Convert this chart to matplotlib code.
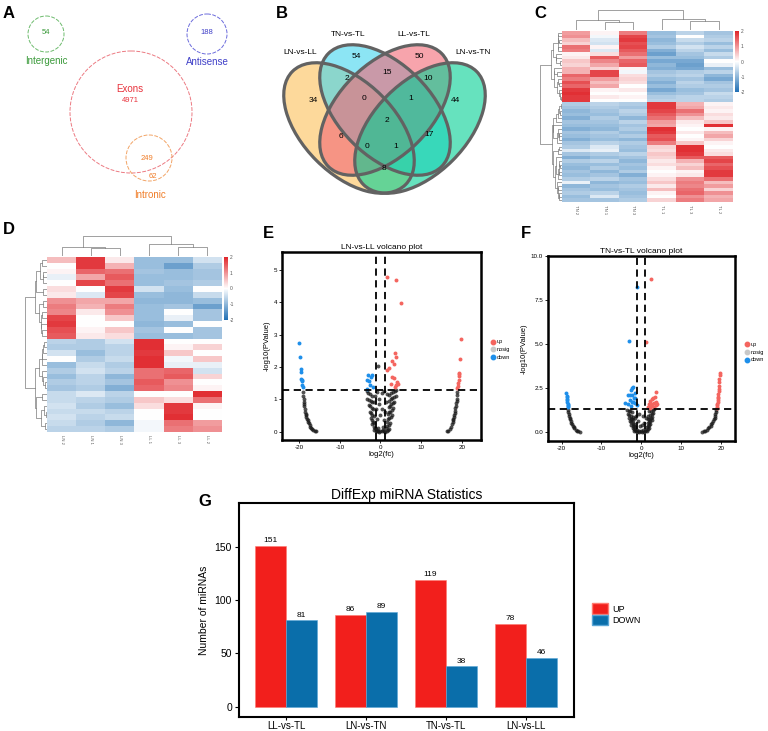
import numpy as np
import matplotlib
matplotlib.use("Agg")
import matplotlib.pyplot as plt
from matplotlib.patches import Circle, Ellipse, Patch
from matplotlib.lines import Line2D
from matplotlib.colors import LinearSegmentedColormap

plt.rcParams['font.family'] = ['Liberation Sans', 'DejaVu Sans']
plt.rcParams['axes.unicode_minus'] = False

# ---------------- data ----------------
# A: genomic origin counts
a_labels = ['Intergenic', 'Antisense', 'Exons', 'Intronic']
a_counts = [54, 188, 4971, 249]
a_intronic_only = 62

# B: four-set venn
venn_sets = ['LN-vs-LL', 'TN-vs-TL', 'LL-vs-TL', 'LN-vs-TN']
venn_counts = [34, 54, 50, 44, 2, 15, 10, 0, 1, 6, 2, 17, 0, 1, 8]

# C / D heatmaps (z-scores, rows top to bottom)
c_cols = ['TN 2', 'TN 1', 'TN 3', 'TL 1', 'TL 3', 'TL 2']
c_vals = [
    [0.9, 0.1, 1.2, -0.9, -0.6, -0.8], [1.0, -0.1, 1.7, -0.8, 0.0, -0.7],
    [0.6, -0.3, 1.8, -1.0, -0.5, -0.6], [0.4, -0.4, 1.6, -0.9, -0.7, -0.9],
    [1.3, 0.1, 1.7, -0.7, -0.4, -0.6], [1.2, -0.3, 1.5, -1.1, -0.6, -0.9],
    [0.1, 0.3, 1.3, -1.3, -0.8, -0.5], [0.2, 1.5, 0.9, -0.9, -0.9, -0.7],
    [0.5, 1.1, 1.4, -1.2, -1.2, 0.0], [0.4, 0.8, 1.5, -1.0, -1.3, -0.2],
    [0.7, 0.4, 0.1, -1.1, -1.2, -0.9], [0.7, 1.7, -0.1, -0.8, -0.7, -0.6],
    [1.4, 1.7, 0.3, -0.7, -0.6, -1.0], [1.2, 0.9, 0.4, -0.9, -0.8, -1.2],
    [1.6, 0.6, 0.3, -1.1, -0.6, -0.8], [1.4, 0.8, 0.0, -0.9, -0.7, -0.7],
    [1.8, 0.1, 0.2, -1.2, -0.9, -0.8], [1.9, 0.0, 0.0, -0.9, -0.8, -0.5],
    [1.8, 0.2, 0.1, -0.7, -0.6, -0.6], [1.8, 0.0, 0.0, -0.6, -0.6, -0.7],
    [-0.7, -0.6, -0.7, 1.8, 0.7, 0.1], [-0.8, -0.7, -0.8, 1.8, 0.8, 0.2],
    [-1.0, -0.8, -0.6, 1.7, 1.3, 0.1], [-0.9, -0.9, -0.7, 1.5, 1.0, 0.3],
    [-1.1, -0.7, -1.0, 1.3, 0.6, 0.2], [-0.8, -0.8, -0.6, 0.9, 0.2, 0.5],
    [-0.9, -0.9, -0.8, 0.8, 0.1, 1.9], [-1.1, -1.0, -0.7, 1.9, 0.0, 0.1],
    [-0.8, -0.7, -0.9, 1.8, 0.2, 0.6], [-0.9, -0.8, -0.7, 1.5, 0.0, 0.8],
    [-1.1, -0.9, -1.0, 1.6, 0.1, 0.4], [-0.8, -0.6, -0.7, 1.2, 0.5, 0.1],
    [-0.7, -0.3, -0.8, 0.4, 1.9, 0.0], [-0.3, -0.2, -0.9, 0.3, 1.9, 0.2],
    [-0.8, -0.7, -0.6, 0.5, 1.8, 0.3], [-1.1, -0.9, -0.8, 0.4, 1.5, 1.5],
    [-0.7, -0.6, -1.0, 0.2, 0.7, 1.7], [-0.9, -0.9, -0.8, 0.3, 0.4, 1.4],
    [-1.0, -0.7, -0.9, 0.1, 0.6, 1.6], [-0.8, -1.0, -0.7, 0.0, 0.1, 1.8],
    [-0.9, -0.8, -1.1, 0.1, 0.2, 1.8], [-0.7, -0.6, -0.8, 0.3, 1.0, 1.3],
    [-0.2, -1.0, -0.9, 0.5, 1.2, 0.6], [-1.0, -0.8, -0.7, 0.2, 1.1, 0.9],
    [-0.8, -0.9, -0.8, 0.6, 1.3, 0.4], [-0.7, -0.6, -0.9, 0.1, 1.4, 1.0],
    [-0.9, -0.3, -0.8, 0.0, 1.0, 0.7], [-0.8, -0.8, -0.7, 0.4, 1.2, 0.8],
]
c_col_tree = [(1, 2, 0.40), (0, 6, 0.48), (4, 5, 0.44), (3, 8, 0.52), (7, 9, 1.0)]

d_cols = ['LN 2', 'LN 1', 'LN 3', 'LL 1', 'LL 3', 'LL 2']
d_vals = [
    [0.6, 1.8, 0.2, -0.9, -0.9, -0.4], [0.0, 1.8, 0.7, -0.9, -1.3, -0.7],
    [0.1, 1.4, 1.3, -0.8, -0.9, -0.8], [-0.2, 0.8, 1.5, -0.9, -0.9, -0.8],
    [0.0, 1.7, 1.3, -0.9, -0.8, -0.7], [0.3, 0.0, 1.8, -0.4, -0.9, 0.0],
    [0.2, -0.3, 1.7, -0.9, -1.0, -0.5], [1.0, 0.8, 0.8, -1.0, -1.0, -0.9],
    [1.2, 0.7, 1.2, -0.9, -0.8, -1.3], [1.1, 0.2, 1.0, -0.9, 0.0, -0.8],
    [1.7, 0.0, 0.5, -0.9, -0.2, -0.8], [1.8, 0.0, 0.0, -1.0, -0.9, 0.0],
    [1.6, 0.1, 0.5, -0.8, 0.0, -0.8], [1.5, 0.2, 0.3, -0.9, -0.9, -0.8],
    [-0.6, -0.7, -0.4, 1.9, 0.0, 0.0], [-0.7, -0.7, -0.6, 1.9, 0.1, 0.4],
    [-0.4, -0.9, -0.6, 1.8, 0.5, 0.0], [0.0, -0.7, -0.5, 1.9, -0.1, 0.5],
    [-0.9, -0.5, -0.7, 1.9, -0.2, -0.2], [-0.7, -0.4, -0.6, 1.3, 1.4, -0.4],
    [-0.9, -0.6, -1.0, 1.3, 1.5, 0.4], [-0.7, -0.6, -0.8, 1.5, 1.0, 0.0],
    [-0.8, -0.7, -1.1, 1.4, 1.1, 0.1], [-0.5, -0.3, -0.6, 0.0, 0.0, 1.9],
    [-0.5, -0.6, -0.7, 0.5, 0.3, 1.3], [-0.4, -0.7, -0.9, 0.3, 1.8, 0.1],
    [-0.5, -0.5, -0.6, 0.0, 1.8, 0.0], [-0.4, -0.6, -0.5, 0.0, 1.9, 0.0],
    [-0.5, -0.7, -1.0, -0.1, 1.3, 0.9], [-0.6, -0.6, -0.7, -0.1, 1.2, 1.0],
]
d_col_tree = [(1, 2, 0.39), (0, 6, 0.46), (4, 5, 0.46), (3, 8, 0.57), (7, 9, 1.0)]

# E: LN-vs-LL volcano
e_up_x = [19.9, 19.5, 19.4, 19.35, 19.3, 19.2, 19.1, 19.0, 18.9,
          1.5, 3.8, 5.0, 3.5, 3.9, 2.9, 3.3, 2.0, 1.7, 2.9, 3.2, 4.1, 3.9, 2.7, 4.4, 3.5]
e_up_y = [2.85, 2.25, 1.82, 1.78, 1.72, 1.58, 1.5, 1.42, 1.35,
          4.77, 4.70, 3.98, 2.42, 2.29, 2.19, 2.1, 1.96, 1.91, 1.70, 1.67, 1.53, 1.43, 1.47, 1.47, 1.39]
e_dn_x = [-19.9, -19.7, -19.6, -19.55, -19.5, -19.4, -19.3, -19.2, -19.1,
          -3.0, -2.4, -2.1, -3.4, -2.8, -3.2, -1.9, -2.6]
e_dn_y = [2.75, 2.3, 1.92, 1.85, 1.62, 1.6, 1.55, 1.45, 1.38,
          1.75, 1.70, 1.75, 1.60, 1.55, 1.33, 1.38, 1.45]
e_ns_x = [-19.0, -18.95, -18.9, -18.85, -18.8, -18.7, -18.6, -18.5, -18.4, -18.3, -18.2,
          -18.0, -17.9, -17.7, -17.5, -17.4, -17.2, -17.0, -16.8, -16.5, -16.2, -15.9,
          18.9, 18.8, 18.75, 18.7, 18.6, 18.5, 18.4, 18.3, 18.2, 18.1, 18.0, 17.9, 17.8,
          17.7, 17.5, 17.3, 17.0, 16.6, 16.3,
          -1.6, -1.2, -0.9, -0.6, -0.3, 0.0, 0.3, 0.6, 0.9, 1.2, 1.5, 1.8, 2.1,
          -2.0, -1.7, -1.4, -1.1, -0.5, 0.5, 1.4, 1.7, 2.0, 2.3,
          -2.3, -2.0, -1.8, -1.5, 1.6, 1.9, 2.2, 2.5, 2.8,
          -2.6, -2.3, -2.0, -1.7, 1.8, 2.1, 2.4, 2.8, 3.1,
          -2.9, -2.5, -2.2, -1.9, 2.0, 2.3, 2.7, 3.0, 3.4,
          -3.2, -2.8, -2.4, -2.0, -1.6, 2.1, 2.5, 2.9, 3.3, 3.7,
          -3.4, -3.0, -2.6, -2.1, -0.4, 0.3, 2.2, 2.6, 3.0, 3.5, 3.9,
          -0.7, -0.3, 0.4, -0.2, 0.8, -0.8, 1.0, -1.2, 1.3, -1.3, 1.6, 0.9, -0.9]
e_ns_y = [1.22, 1.1, 1.0, 0.92, 0.85, 0.78, 0.7, 0.62, 0.55, 0.5, 0.45,
          0.4, 0.35, 0.3, 0.25, 0.2, 0.15, 0.12, 0.08, 0.05, 0.02, 0.01,
          1.22, 1.12, 1.02, 0.95, 0.88, 0.8, 0.72, 0.65, 0.58, 0.5, 0.45, 0.4, 0.35,
          0.3, 0.22, 0.15, 0.08, 0.03, 0.01,
          0.05, 0.02, 0.01, 0.03, 0.0, 0.02, 0.01, 0.04, 0.02, 0.0, 0.03, 0.06, 0.08,
          0.22, 0.15, 0.1, 0.08, 0.12, 0.15, 0.12, 0.18, 0.2, 0.25,
          0.42, 0.36, 0.3, 0.28, 0.3, 0.38, 0.42, 0.45, 0.5,
          0.62, 0.58, 0.52, 0.48, 0.55, 0.6, 0.62, 0.68, 0.72,
          0.82, 0.78, 0.72, 0.7, 0.75, 0.8, 0.85, 0.88, 0.92,
          1.02, 0.98, 0.95, 0.92, 0.9, 0.95, 1.0, 1.05, 1.08, 1.1,
          1.25, 1.2, 1.15, 1.1, 1.0, 1.2, 1.12, 1.18, 1.22, 1.26, 1.28,
          2.04, 0.85, 0.7, 0.5, 0.35, 0.4, 0.6, 0.7, 0.9, 1.1, 1.15, 1.25, 1.22]

# F: TN-vs-TL volcano
f_up_x = [19.8, 19.7, 19.6, 19.55, 19.5, 19.45, 19.4, 19.35, 19.3, 19.25, 19.2, 19.15,
          19.1, 19.0, 18.95, 18.9,
          2.4, 1.3, 3.7, 3.4, 3.0, 2.6, 2.2, 3.8, 3.3, 2.8, 2.0, 3.6, 2.5, 1.9, 3.1, 1.6,
          2.3, 4.0]
f_up_y = [3.35, 3.2, 3.0, 2.8, 2.6, 2.45, 2.3, 2.15, 2.0, 1.9, 1.8, 1.7,
          1.6, 1.5, 1.42, 1.35,
          8.7, 5.1, 2.28, 2.0, 1.9, 1.85, 1.75, 1.7, 1.65, 1.6, 1.55, 1.5, 1.45, 1.42, 1.4, 1.38,
          1.35, 1.55]
f_dn_x = [-18.8, -18.75, -18.7, -18.65, -18.6, -18.55, -18.5, -18.5, -18.45, -18.4,
          -1.1, -3.0, -2.0, -2.6, -3.3, -2.3, -1.6, -4.1, -2.9, -2.0, -1.5,
          -2.4, -2.8, -1.8, -2.4, -3.3, -1.6, -2.6, -1.2]
f_dn_y = [2.2, 2.05, 1.95, 1.85, 1.78, 1.7, 1.6, 1.52, 1.45, 1.38,
          8.23, 5.19, 2.53, 2.38, 2.1, 2.1, 2.2, 1.62, 1.8, 1.7, 1.9,
          2.5, 2.1, 1.9, 1.7, 1.6, 1.65, 1.45, 1.5]
f_ns_x = [-18.4, -18.3, -18.2, -18.1, -18.0, -17.9, -17.7, -17.6, -17.4, -17.2, -17.0,
          -16.8, -16.5, -16.2, -15.8, -15.4,
          18.8, 18.7, 18.6, 18.5, 18.4, 18.2, 18.0, 17.8, 17.6, 17.4, 17.1, 16.8, 16.5,
          16.1, 15.7, 15.3,
          -1.8, -1.4, -1.0, -0.6, -0.2, 0.2, 0.6, 1.0, 1.4,
          -2.2, -1.9, -1.6, -1.2, -0.5, 0.4, 1.2, 1.6, 1.9,
          -2.5, -2.2, -1.9, -1.6, 1.4, 1.7, 2.0, 2.3,
          -2.8, -2.5, -2.2, -1.8, 1.6, 1.9, 2.2, 2.6,
          -3.1, -2.7, -2.3, -2.0, 1.7, 2.0, 2.4, 2.8,
          -3.4, -3.0, -2.6, -2.2, -1.7, 1.8, 2.2, 2.6, 3.0,
          -3.7, -3.2, -2.8, -2.3, -0.6, 0.5, 1.9, 2.4, 2.9, 3.3,
          -0.9, 0.8, -1.3, 1.1, -0.3, 0.3]
f_ns_y = [1.25, 1.12, 1.0, 0.9, 0.8, 0.7, 0.6, 0.5, 0.42, 0.33, 0.27,
          0.2, 0.12, 0.06, 0.02, 0.0,
          1.22, 1.1, 1.0, 0.9, 0.8, 0.7, 0.6, 0.5, 0.42, 0.35, 0.27, 0.2, 0.12,
          0.06, 0.02, 0.0,
          0.05, 0.02, 0.01, 0.0, 0.03, 0.01, 0.0, 0.02, 0.05,
          0.2, 0.15, 0.1, 0.08, 0.06, 0.07, 0.1, 0.15, 0.2,
          0.4, 0.35, 0.3, 0.25, 0.28, 0.33, 0.38, 0.42,
          0.6, 0.55, 0.5, 0.45, 0.48, 0.55, 0.6, 0.65,
          0.8, 0.75, 0.7, 0.65, 0.7, 0.75, 0.8, 0.85,
          1.0, 0.95, 0.9, 0.85, 0.8, 0.9, 0.95, 1.0, 1.05,
          1.25, 1.2, 1.15, 1.1, 1.0, 0.9, 1.15, 1.2, 1.25, 1.28,
          0.6, 0.5, 0.9, 0.8, 0.3, 0.4]

# G: DiffExp counts
g_groups = ['LL-vs-TL', 'LN-vs-TN', 'TN-vs-TL', 'LN-vs-LL']
g_up = [151, 86, 119, 78]
g_down = [81, 89, 38, 46]

# ---------------- figure ----------------
W, H = 768, 731
fig = plt.figure(figsize=(W / 100, H / 100), dpi=100)


def px_ax(l, t, r, b):
    return fig.add_axes([l / W, 1 - b / H, (r - l) / W, (b - t) / H])


# overlay in pixel units for panels A, B and the letters
ov = fig.add_axes([0, 0, 1, 1])
ov.set_xlim(0, W)
ov.set_ylim(H, 0)
ov.axis('off')

for letter, (x, y) in zip('ABCDEFG', [(9, 13), (282, 13), (540, 13), (9, 230),
                                      (268, 233), (526, 233), (205, 501)]):
    ov.text(x, y, letter, fontsize=12, fontweight='bold', ha='center', va='center')

# ---- A ----
a_geom = [((46, 34), 18, '#6dbb6d', '#3a9a3a'), ((207, 34), 20, '#6b6bdc', '#4040c8'),
          ((131, 112), 61, '#ec7a82', '#e8323c'), ((149, 158), 23, '#f2a466', '#f07d28')]
for (c, r, lc, tc) in a_geom:
    ov.add_patch(Circle(c, r, fill=False, ec=lc, lw=0.7, ls=(0, (4, 1.5))))
ov.text(46, 33, str(a_counts[0]), color='#3a9a3a', fontsize=5.5, ha='center', va='center')
ov.text(46, 61, a_labels[0], color='#3a9a3a', fontsize=7, ha='center', va='center')
ov.text(207, 33, str(a_counts[1]), color='#4040c8', fontsize=5.5, ha='center', va='center')
ov.text(207, 62, a_labels[1], color='#4040c8', fontsize=7, ha='center', va='center')
ov.text(130, 89, a_labels[2], color='#e8323c', fontsize=7, ha='center', va='center')
ov.text(130, 101, str(a_counts[2]), color='#e8323c', fontsize=5.5, ha='center', va='center')
ov.text(147, 159, str(a_counts[3]), color='#f07d28', fontsize=5.5, ha='center', va='center')
ov.text(153, 177, str(a_intronic_only), color='#f07d28', fontsize=5.5, ha='center', va='center')
ov.text(150, 195, a_labels[3], color='#f07d28', fontsize=7, ha='center', va='center')

# ---- B ----
ell = [((349, 128), 45, '#fcc058'), ((385, 110), 45, '#3fd5ee'),
       ((385, 110), -45, '#f26776'), ((420, 128), -45, '#00d094')]
for (c, ang, col) in ell:
    ov.add_patch(Ellipse(c, 160, 92, angle=ang, fc=col, ec='none', alpha=0.6))
for (c, ang, col) in ell:
    ov.add_patch(Ellipse(c, 160, 92, angle=ang, fill=False, ec='#626262', lw=2.3))
region_xy = [(313, 100), (356, 56), (419, 56), (455, 100), (347, 79), (387, 73),
             (428, 79), (364, 98), (411, 98), (341, 136), (387, 121), (429, 135),
             (367, 147), (396, 147), (384, 168)]
for (x, y), v in zip(region_xy, venn_counts):
    ov.text(x, y, str(v), fontsize=6, ha='center', va='center')
for (x, y), s in zip([(300, 52), (348, 34), (414, 34), (473, 52)], venn_sets):
    ov.text(x, y, s, fontsize=6, ha='center', va='center')

# ---- heatmaps with dendrograms ----
hm_cmap = LinearSegmentedColormap.from_list('bwr_hm', ['#1f6fb4', '#ffffff', '#e0252a'])


def row_tree(mat):
    groups = [[i] for i in range(len(mat))]
    ids = list(range(len(mat)))
    hts = {i: 0.0 for i in ids}
    merges, nid = [], len(mat)
    while len(groups) > 1:
        best = None
        for k in range(len(groups) - 1):
            a, b = mat[groups[k]], mat[groups[k + 1]]
            d = np.sqrt(((a[:, None, :] - b[None, :, :]) ** 2).sum(-1)).mean()
            if best is None or d < best[0]:
                best = (d, k)
        d, k = best
        h = max(d, hts[ids[k]], hts[ids[k + 1]])
        merges.append((ids[k], ids[k + 1], h))
        hts[nid] = h
        groups[k:k + 2] = [groups[k] + groups[k + 1]]
        ids[k:k + 2] = [nid]
        nid += 1
    return merges


def draw_tree(ax, merges, n, vertical):
    pos = {i: float(i) for i in range(n)}
    hgt = {i: 0.0 for i in range(n)}
    for k, (a, b, h) in enumerate(merges):
        p = [pos[a], pos[a], pos[b], pos[b]]
        q = [hgt[a], h, h, hgt[b]]
        if vertical:
            ax.plot(p, q, color='#7a7a7a', lw=0.5)
        else:
            ax.plot(q, p, color='#7a7a7a', lw=0.5)
        pos[n + k] = (pos[a] + pos[b]) / 2
        hgt[n + k] = h
    top = merges[-1][2] * 1.03
    if vertical:
        ax.set_xlim(-0.5, n - 0.5)
        ax.set_ylim(0, top)
    else:
        ax.set_xlim(top, 0)
        ax.set_ylim(n - 0.5, -0.5)
    ax.axis('off')


def heat_panel(vals, cols, col_tree, hm_box, cb_box):
    l, t, r, b = hm_box
    mat = np.array(vals)
    ax = px_ax(l, t, r, b)
    im = ax.imshow(mat, cmap=hm_cmap, vmin=-2, vmax=2, aspect='auto', interpolation='nearest')
    ax.set_xticks(range(len(cols)))
    ax.set_xticklabels(cols, rotation=270, fontsize=3, color='#555555')
    ax.set_yticks([])
    ax.tick_params(length=0, pad=2)
    for s in ax.spines.values():
        s.set_visible(False)
    draw_tree(px_ax(l - 23, t, l, b), row_tree(mat), len(mat), vertical=False)
    draw_tree(px_ax(l, t - 22, r, t - 1), col_tree, len(cols), vertical=True)
    cax = px_ax(*cb_box)
    cb = fig.colorbar(im, cax=cax, ticks=[-2, -1, 0, 1, 2])
    cb.outline.set_visible(False)
    cb.ax.tick_params(labelsize=3.5, length=0, pad=1.5, colors='#555555')


heat_panel(c_vals, c_cols, c_col_tree, (562, 31, 733, 202), (735, 31, 739, 92))
heat_panel(d_vals, d_cols, d_col_tree, (47, 257, 222, 432), (224, 257, 228, 320))

# ---- volcano plots ----
UP_C, NS_C, DN_C = '#F4655F', '#c8c8c8', '#1E8FEA'


def volcano(box, title, up, dn, ns, xlim, ylim, yticks, ylabels):
    ax = px_ax(*box)
    ax.scatter(ns[0], ns[1], s=8, c='#1a1a1a', alpha=0.75, lw=0)
    ax.scatter(up[0], up[1], s=8, c=UP_C, lw=0)
    ax.scatter(dn[0], dn[1], s=8, c=DN_C, lw=0)
    dash = dict(color='black', lw=1.3, ls=(0, (4, 2.5)))
    ax.axhline(1.3, **dash)
    ax.axvline(-1, **dash)
    ax.axvline(1, **dash)
    ax.set_xlim(*xlim)
    ax.set_ylim(*ylim)
    ax.set_xticks([-20, -10, 0, 10, 20])
    ax.set_yticks(yticks)
    ax.set_yticklabels(ylabels)
    ax.tick_params(labelsize=4.5, length=2, width=0.6, pad=1.5)
    for s in ax.spines.values():
        s.set_linewidth(1.8)
    ax.set_title(title, fontsize=6, pad=2)
    ax.set_xlabel('log2(fc)', fontsize=5.5, labelpad=1)
    ax.set_ylabel('-log10(PValue)', fontsize=5.5, labelpad=2)
    handles = [Line2D([], [], marker='o', ls='', color=c, markersize=3.2) for c in (UP_C, NS_C, DN_C)]
    ax.legend(handles, ['up', 'nosig', 'down'], loc='center left', bbox_to_anchor=(1.02, 0.48),
              frameon=False, fontsize=4, handletextpad=0.2, labelspacing=0.5, handlelength=1)
    return ax


volcano((282, 252, 481, 440), 'LN-vs-LL volcano plot', (e_up_x, e_up_y), (e_dn_x, e_dn_y),
        (e_ns_x, e_ns_y), (-24.2, 24.7), (-0.26, 5.55), [0, 1, 2, 3, 4, 5],
        ['0', '1', '2', '3', '4', '5'])
volcano((548, 256, 735, 441), 'TN-vs-TL volcano plot', (f_up_x, f_up_y), (f_dn_x, f_dn_y),
        (f_ns_x, f_ns_y), (-23.4, 23.5), (-0.53, 10.0), [0, 2.5, 5, 7.5, 10],
        ['0.0', '2.5', '5.0', '7.5', '10.0'])

# ---- G ----
axG = px_ax(239, 503, 574, 717)
xg = np.arange(len(g_groups))
bw = 0.39
RED, BLUE = '#F21F1C', '#0A6EAA'
axG.bar(xg - bw / 2, g_up, bw, color=RED, edgecolor='#ff7a70', lw=0.4)
axG.bar(xg + bw / 2, g_down, bw, color=BLUE, edgecolor='#5aa6d6', lw=0.4)
for xi, v in zip(xg - bw / 2, g_up):
    axG.text(xi, v + 1.5, str(v), ha='center', va='bottom', fontsize=6)
for xi, v in zip(xg + bw / 2, g_down):
    axG.text(xi, v + 1.5, str(v), ha='center', va='bottom', fontsize=6)
axG.set_xlim(-0.59, 3.6)
axG.set_ylim(-9.5, 190.8)
axG.set_xticks(xg)
axG.set_xticklabels(g_groups, fontsize=7)
axG.set_yticks([0, 50, 100, 150])
axG.tick_params(axis='y', labelsize=7.5, length=3, width=0.8, pad=2)
axG.tick_params(axis='x', length=2, width=0.8, pad=1)
for s in axG.spines.values():
    s.set_linewidth(1.5)
axG.set_ylabel('Number of miRNAs', fontsize=7.5, labelpad=4)
axG.set_title('DiffExp miRNA Statistics', fontsize=10, pad=3)
axG.legend([Patch(fc=RED, ec='#ff7a70'), Patch(fc=BLUE, ec='#5aa6d6')], ['UP', 'DOWN'],
           loc='center left', bbox_to_anchor=(1.03, 0.48), frameon=False, fontsize=6.5,
           handlelength=1.7, handleheight=1.4, handletextpad=0.5, labelspacing=0.1)

fig.savefig('out.png', dpi=100)
